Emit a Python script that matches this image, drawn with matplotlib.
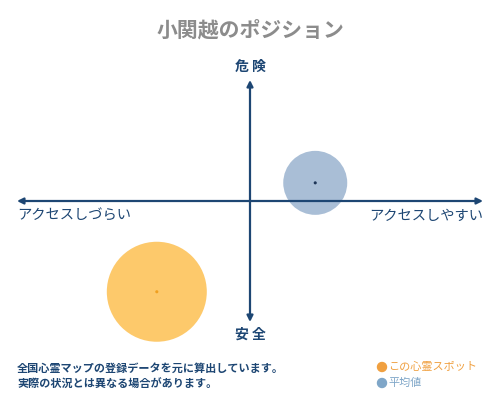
import matplotlib.pyplot as plt
from matplotlib.patches import Ellipse

plt.rcParams['font.family'] = ['Noto Sans CJK JP', 'DejaVu Sans']

# データ (横: アクセス, 縦: 危険度, -1..1)
names = ['この心霊スポット', '平均値']
x_vals = [-0.40, 0.28]
y_vals = [-0.75, 0.15]
radius_px = [50, 32]
fill_colors = ['#fdc96b', '#a9bed6']
dot_colors = ['#f0a020', '#1d3557']
legend_colors = ['#f0a040', '#7fa6c8']

title = '小関越のポジション'
top_label = '危 険'
bottom_label = '安 全'
left_label = 'アクセスしづらい'
right_label = 'アクセスしやすい'
notes = ['全国心霊マップの登録データを元に算出しています。',
         '実際の状況とは異なる場合があります。']

navy = '#1d4673'
W, H = 500, 400

fig = plt.figure(figsize=(5, 4), dpi=100)
ax = fig.add_axes([17 / W, 78 / H, 466 / W, 242 / H])
ax.set_xlim(-1, 1)
ax.set_ylim(-1, 1)
ax.axis('off')

# 円
for x, y, r, fc, dc in zip(x_vals, y_vals, radius_px, fill_colors, dot_colors):
    s = (2 * r * 72 / 100) ** 2
    ax.scatter([x], [y], s=s, color=fc, edgecolors='none', zorder=2, clip_on=False)
    ax.scatter([x], [y], s=5, color=dc, edgecolors='none', zorder=4, clip_on=False)

# 軸の矢印
arrow = dict(arrowstyle='<|-|>', color=navy, lw=1.6, mutation_scale=9,
             shrinkA=0, shrinkB=0)
ax.annotate('', xy=(1, 0), xytext=(-1, 0), arrowprops=arrow, zorder=3)
ax.annotate('', xy=(0, 1), xytext=(0, -1), arrowprops=arrow, zorder=3)


def ftext(px, py, s, **kw):
    fig.text(px / W, 1 - py / H, s, **kw)


ftext(250, 30, title, ha='center', va='center', fontsize=15, color='#8c8c8c',
      fontweight='bold')
ftext(250, 67, top_label, ha='center', va='center', fontsize=10, color=navy,
      fontweight='bold')
ftext(250, 335, bottom_label, ha='center', va='center', fontsize=10, color=navy,
      fontweight='bold')
ftext(17, 216, left_label, ha='left', va='center', fontsize=10.3, color=navy)
ftext(483, 216, right_label, ha='right', va='center', fontsize=10.3, color=navy)

for i, line in enumerate(notes):
    ftext(17, 368 + 16 * i, line, ha='left', va='center', fontsize=8,
          color=navy, fontweight='bold')

# 凡例
for i, (name, c) in enumerate(zip(names, legend_colors)):
    fig.patches.append(Ellipse((382 / W, 1 - (367 + 16 * i) / H), 9 / W, 9 / H,
                               transform=fig.transFigure, color=c))
    ftext(388, 367 + 16 * i, name, ha='left', va='center', fontsize=8, color=c)

fig.savefig('out.png', dpi=100)
